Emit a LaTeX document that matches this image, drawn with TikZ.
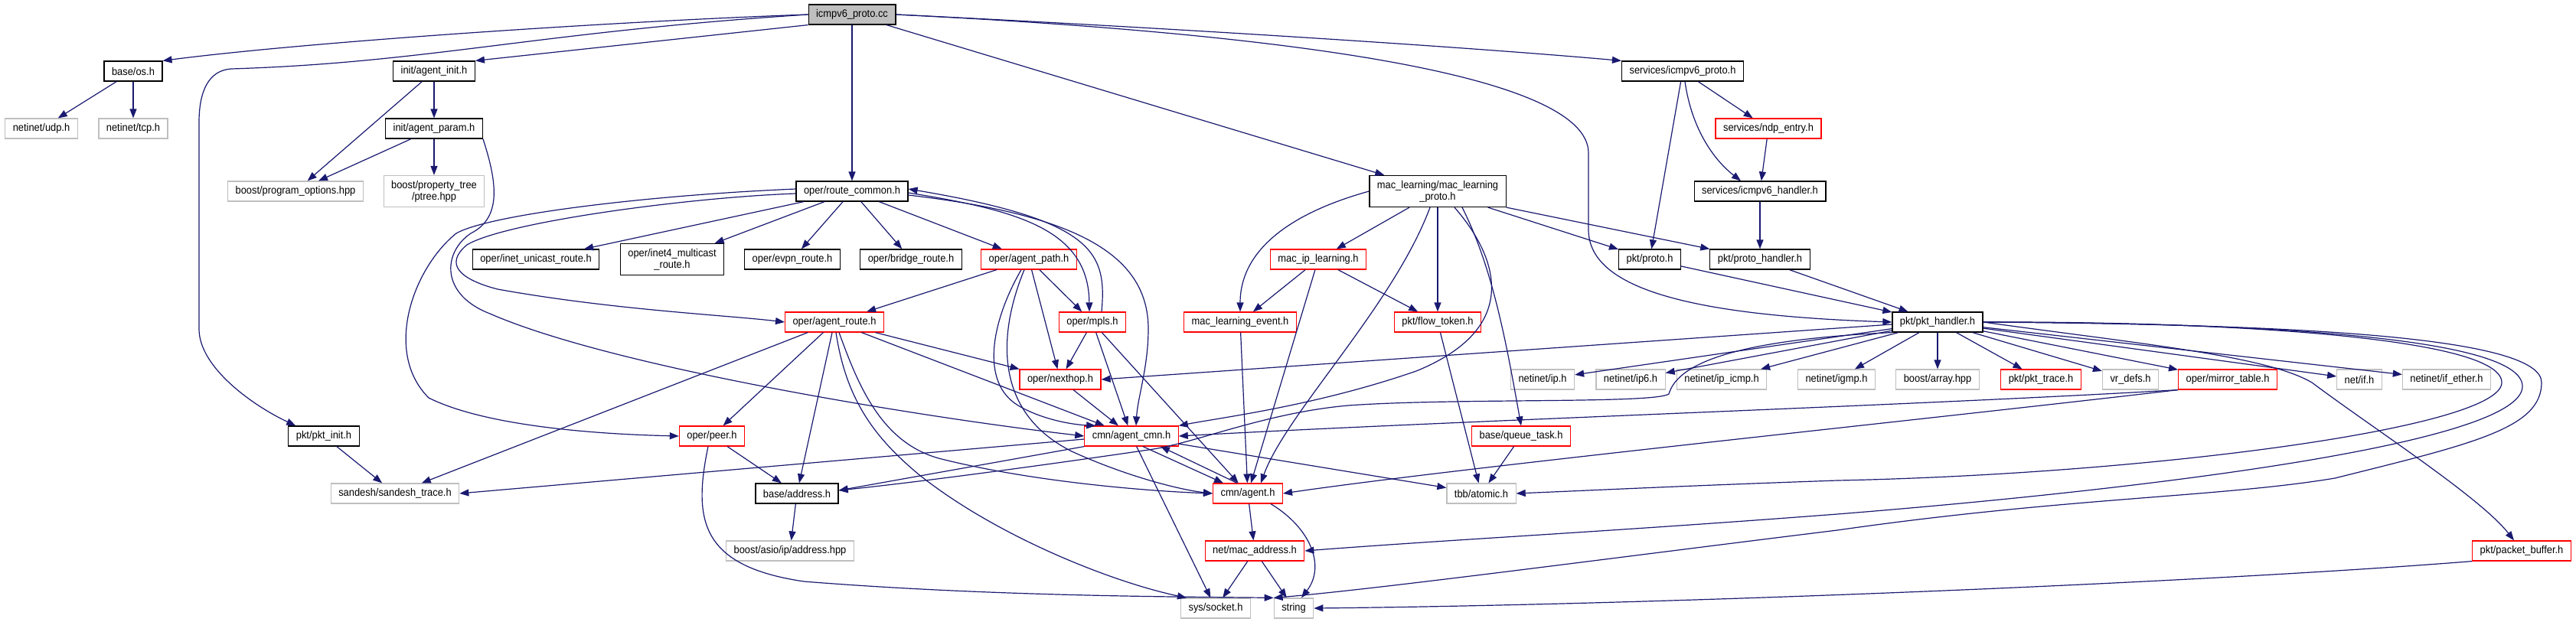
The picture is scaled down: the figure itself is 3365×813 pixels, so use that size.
\documentclass[tikz,border=0pt]{standalone}
\usepackage{fontspec}
\setmainfont{Liberation Sans}[FakeStretch=0.92]
\usetikzlibrary{arrows.meta}
\definecolor{mblue}{HTML}{191970}
\definecolor{ngray}{HTML}{BFBFBF}
\tikzset{
 box/.style={rectangle, fill=white, line width=1.2pt, inner xsep=10pt, inner ysep=0pt, minimum height=26pt, font=\fontsize{14}{15}\selectfont, align=center},
 nb/.style={box, draw=black},
 nr/.style={box, draw=red},
 ng/.style={box, draw=ngray},
 nroot/.style={box, draw=black, fill=ngray},
 e/.style={draw=mblue, line width=1.2pt, -{Triangle[length=12pt,width=9pt]}},
}
\begin{document}
\begin{tikzpicture}[x=1pt,y=-1pt]
\useasboundingbox[fill=white] (0,0) rectangle (3365,813);
% nodes
\node[nroot] (R) at (1113,19) {icmpv6\_proto.cc};
\node[nb] (os) at (174,93) {base/os.h};
\node[ng] (udp) at (54,168) {netinet/udp.h};
\node[ng] (tcp) at (174,168) {netinet/tcp.h};
\node[nb] (ainit) at (567,93) {init/agent\_init.h};
\node[nb] (aparam) at (567,168) {init/agent\_param.h};
\node[ng] (popt) at (386,250) {boost/program\_options.hpp};
\node[ng, minimum height=41pt] (ptree) at (567,250) {boost/property\_tree\\/ptree.hpp};
\node[nb] (rc) at (1113,250) {oper/route\_common.h};
\node[nb, minimum height=41pt] (mlp) at (1878,250) {mac\_learning/mac\_learning\\\_proto.h};
\node[nb] (sip) at (2198,93) {services/icmpv6\_proto.h};
\node[nr] (ndp) at (2310,168) {services/ndp\_entry.h};
\node[nb] (sih) at (2299,250) {services/icmpv6\_handler.h};
\node[nb] (iur) at (700,339) {oper/inet\_unicast\_route.h};
\node[nb, minimum height=41pt] (imr) at (878,339) {oper/inet4\_multicast\\\_route.h};
\node[nb] (evpn) at (1035,339) {oper/evpn\_route.h};
\node[nb] (bridge) at (1190,339) {oper/bridge\_route.h};
\node[nr] (apath) at (1344,339) {oper/agent\_path.h};
\node[nr] (mip) at (1722,339) {mac\_ip\_learning.h};
\node[nb] (proto) at (2155,339) {pkt/proto.h};
\node[nb] (ph) at (2299,339) {pkt/proto\_handler.h};
\node[nr] (aroute) at (1090,421) {oper/agent\_route.h};
\node[nr] (mpls) at (1427,421) {oper/mpls.h};
\node[nr] (mle) at (1620,421) {mac\_learning\_event.h};
\node[nr] (ft) at (1878,421) {pkt/flow\_token.h};
\node[nb] (pkth) at (2531,421) {pkt/pkt\_handler.h};
\node[nr] (nh) at (1385,496) {oper/nexthop.h};
\node[ng] (ip) at (2015,496) {netinet/ip.h};
\node[ng] (ip6) at (2130,496) {netinet/ip6.h};
\node[ng] (icmp) at (2249,496) {netinet/ip\_icmp.h};
\node[ng] (igmp) at (2399,496) {netinet/igmp.h};
\node[ng] (arr) at (2531,496) {boost/array.hpp};
\node[nr] (ptrace) at (2666,496) {pkt/pkt\_trace.h};
\node[ng] (vr) at (2783,496) {vr\_defs.h};
\node[nr] (mirror) at (2910,496) {oper/mirror\_table.h};
\node[ng] (nif) at (3082,496) {net/if.h};
\node[ng] (ether) at (3196,496) {netinet/if\_ether.h};
\node[nb] (pinit) at (423,570) {pkt/pkt\_init.h};
\node[nr] (peer) at (930,570) {oper/peer.h};
\node[nr] (acmn) at (1478,570) {cmn/agent\_cmn.h};
\node[nr] (qt) at (1987,570) {base/queue\_task.h};
\node[ng] (sandesh) at (516,645) {sandesh/sandesh\_trace.h};
\node[nb] (addr) at (1041,645) {base/address.h};
\node[nr] (agent) at (1630,645) {cmn/agent.h};
\node[ng] (atomic) at (1935,645) {tbb/atomic.h};
\node[ng] (asio) at (1032,720) {boost/asio/ip/address.hpp};
\node[nr] (mac) at (1639,720) {net/mac\_address.h};
\node[nr] (pbuf) at (3294,720) {pkt/packet\_buffer.h};
\node[ng] (sock) at (1588,795) {sys/socket.h};
\node[ng] (str) at (1690,795) {string};

% edges from root
\draw[e] (R.west) .. controls (800,28) and (400,55) .. (os.north east);
\draw[e] (R.west) .. controls (700,42) and (560,82) .. (302,90) .. controls (272,92) and (260,120) .. (260,160) -- (260,430) .. controls (260,480) and (330,530) .. ([xshift=10pt]pinit.north west);
\draw[e] (R.south west) -- (ainit.north east);
\draw[e] (R) -- (rc);
\draw[e] (R) -- (mlp);
\draw[e] (R.east) .. controls (1500,35) and (1900,60) .. (sip.north west);
\draw[e] (R.east) .. controls (1700,45) and (2075,100) .. (2075,200) -- (2075,300) .. controls (2075,375) and (2200,412) .. (pkth.west);

\draw[e] (os) -- (udp);
\draw[e] (os) -- (tcp);
\draw[e] (ainit) -- (popt);
\draw[e] (ainit) -- (aparam);
\draw[e] (aparam) -- (popt);
\draw[e] (aparam) -- (ptree);
\draw[e] (aparam.south east) .. controls (650,240) and (655,285) .. (615,305) .. controls (578,330) and (575,385) .. (640,410) .. controls (800,480) and (1200,545) .. (acmn.west);

% route_common
\draw[e] ([yshift=3pt]rc.west) .. controls (850,255) and (640,280) .. (596,305) .. controls (540,350) and (500,460) .. (560,520) .. controls (640,560) and (800,568) .. (peer.west);
\draw[e] ([yshift=-3pt]rc.west) .. controls (900,258) and (660,290) .. (610,320) .. controls (580,345) and (600,365) .. (650,378) .. controls (800,405) and (950,412) .. (aroute.west);
\draw[e] (rc) -- (iur);
\draw[e] (rc) -- (imr);
\draw[e] (rc) -- (evpn);
\draw[e] (rc) -- (bridge);
\draw[e] (rc) -- (apath);
\draw[e] ([yshift=-2pt]rc.east) .. controls (1330,275) and (1422,300) .. ([xshift=-4pt]mpls.north);
\draw[e] ([xshift=12pt]mpls.north) .. controls (1446,330) and (1430,288) .. ([yshift=3pt]rc.east);
\draw[e] ([yshift=-5pt]rc.east) .. controls (1400,280) and (1500,330) .. (1500,430) .. controls (1500,480) and (1486,520) .. ([xshift=6pt]acmn.north);

% agent_path
\draw[e] (apath) -- (aroute);
\draw[e] (apath) -- (mpls);
\draw[e] (apath) -- (nh);
\draw[e] ([xshift=-10pt]apath.south) .. controls (1295,420) and (1280,500) .. (1330,530) .. controls (1360,548) and (1400,555) .. ([xshift=15pt]acmn.north west);
\draw[e] ([xshift=-6pt]apath.south) .. controls (1302,440) and (1300,540) .. (1400,590) .. controls (1470,622) and (1540,640) .. (agent.west);

% agent_route
\draw[e] (aroute) -- (sandesh);
\draw[e] (aroute) -- (peer);
\draw[e] (aroute) -- (addr);
\draw[e] ([xshift=2pt]aroute.south) .. controls (1105,520) and (1140,570) .. (1200,620) .. controls (1300,700) and (1450,760) .. ([xshift=8pt]sock.north west);
\draw[e] ([xshift=6pt]aroute.south) .. controls (1120,500) and (1150,580) .. (1230,600) .. controls (1350,630) and (1500,642) .. (agent.west);
\draw[e] (aroute) -- (acmn);
\draw[e] (aroute) -- (nh);

% mpls, nexthop
\draw[e] (mpls) -- (nh);
\draw[e] (mpls) -- (acmn);
\draw[e] (mpls) -- (agent);
\draw[e] (nh) -- (acmn);

% mac learning proto
\draw[e] (mlp.west) .. controls (1680,280) and (1620,330) .. (mle.north);
\draw[e] (mlp) -- (mip);
\draw[e] (mlp) -- (ft);
\draw[e] ([xshift=-10pt]mlp.south) .. controls (1820,400) and (1680,540) .. ([xshift=17pt]agent.north);
\draw[e] ([xshift=22pt]mlp.south) .. controls (1960,340) and (1985,430) .. (1850,485) .. controls (1720,530) and (1600,545) .. (acmn.north east);
\draw[e] ([xshift=32pt]mlp.south) .. controls (1950,350) and (1968,450) .. (qt.north);
\draw[e] (mlp) -- (proto);
\draw[e] (mlp.south east) -- (ph.north west);

\draw[e] (mip) -- (mle);
\draw[e] (mip) -- (ft);
\draw[e] (mip) -- (agent);
\draw[e] (mle) -- (agent);
\draw[e] (ft) -- (atomic);
\draw[e] (qt) -- (atomic);

% services
\draw[e] (sip) -- (proto);
\draw[e] (sip) -- (ndp);
\draw[e] ([xshift=3pt]sip.south) .. controls (2210,170) and (2240,210) .. ([xshift=-25pt]sih.north);
\draw[e] (ndp) -- (sih);
\draw[e] (sih) -- (ph);
\draw[e] (proto) -- (pkth);
\draw[e] (ph) -- (pkth);

% pkt_handler
\draw[e] ([yshift=-3pt]pkth.west) -- (nh.east);
\draw[e] (pkth.south west) .. controls (2250,445) and (2190,480) .. (2180,515) .. controls (2160,528) and (1900,520) .. (1761,530) .. controls (1650,540) and (1560,580) .. (1500,588) .. controls (1350,610) and (1200,630) .. ([yshift=4pt]addr.east);
\draw[e] (pkth) -- (ip);
\draw[e] (pkth) -- (ip6);
\draw[e] (pkth) -- (icmp);
\draw[e] (pkth) -- (igmp);
\draw[e] (pkth) -- (arr);
\draw[e] (pkth) -- (ptrace);
\draw[e] (pkth) -- (vr);
\draw[e] (pkth) -- (mirror);
\draw[e] (pkth) -- (nif);
\draw[e] (pkth) -- (ether);
\draw[e] (pkth.east) .. controls (2800,450) and (2960,465) .. (3020,500) .. controls (3100,560) and (3240,650) .. ([xshift=-10pt]pbuf.north);
\draw[e] (pkth.east) .. controls (2900,420) and (3268,440) .. (3268,500) .. controls (3268,560) and (2800,620) .. (2400,628) .. controls (2200,635) and (2100,640) .. (atomic.east);
\draw[e] (pkth.east) .. controls (2950,422) and (3295,440) .. (3295,505) .. controls (3295,580) and (2800,640) .. (2400,672) .. controls (2100,695) and (1900,705) .. (mac.east);
\draw[e] (pkth.east) .. controls (3000,424) and (3320,440) .. (3320,500) .. controls (3320,560) and (3230,580) .. (3050,625) .. controls (2900,650) and (2700,650) .. (2400,693) .. controls (2100,730) and (1800,770) .. (str.north west);

% mirror, packet buffer
\draw[e] (mirror.south west) .. controls (2500,530) and (1900,550) .. (acmn.east);
\draw[e] (mirror.south west) .. controls (2500,550) and (1900,612) .. (agent.east);
\draw[e] (pbuf.south west) .. controls (2900,760) and (2200,790) .. (str.east);

% agent_cmn, agent
\draw[e] ([yshift=-4pt]acmn.west) -- (sandesh.east);
\draw[e] (acmn.south west) -- ([yshift=4pt]addr.east);
\draw[e] (acmn) -- (atomic);
\draw[e] (acmn) -- (sock);
\draw[e] ([xshift=15pt]acmn.south) -- ([xshift=-32pt]agent.north);
\draw[e] ([xshift=-14pt]agent.north) -- ([xshift=38pt]acmn.south);
\draw[e] (agent) -- (mac);
\draw[e] ([xshift=30pt]agent.south) .. controls (1712,690) and (1732,740) .. ([xshift=10pt]str.north);
\draw[e] (mac) -- (sock);
\draw[e] (mac) -- (str);

% peer, address, pkt_init
\draw[e] (peer) -- (addr);
\draw[e] ([xshift=-5pt]peer.south) .. controls (905,680) and (915,740) .. (1050,760) .. controls (1300,780) and (1550,780) .. (str.north west);
\draw[e] (addr) -- (asio);
\draw[e] (pinit) -- (sandesh);
\end{tikzpicture}
\end{document}
